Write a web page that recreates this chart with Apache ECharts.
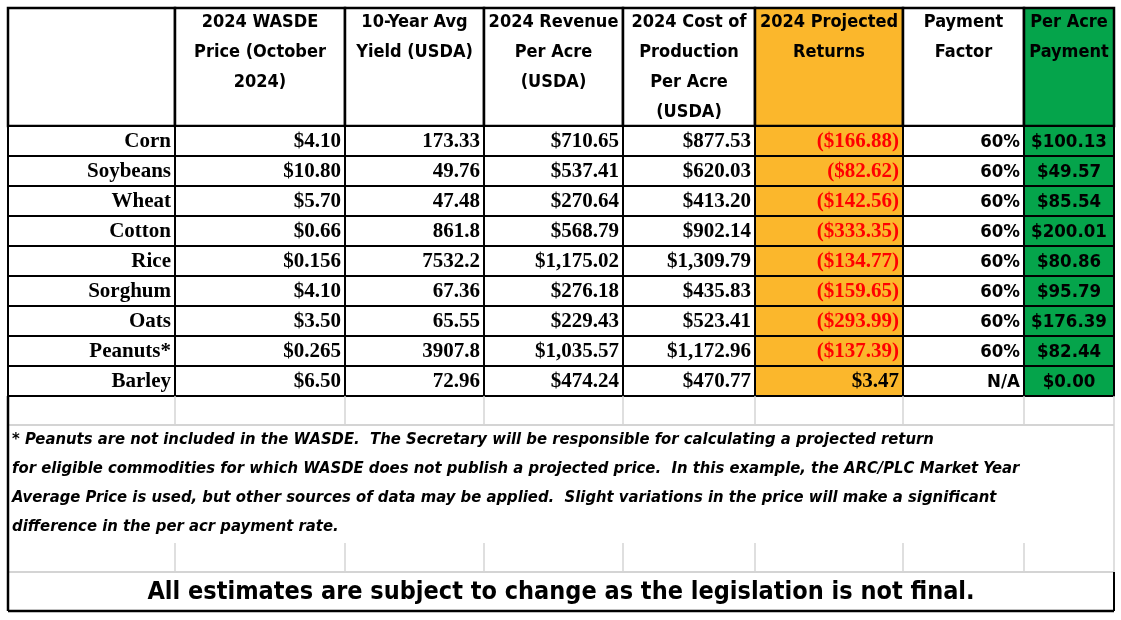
<!DOCTYPE html><html><head><meta charset="utf-8">
<script src="https://cdn.jsdelivr.net/npm/echarts@6/dist/echarts.min.js"></script>
<style>html,body{margin:0;background:#fff}#c{width:1121px;height:620px}</style></head><body><div id="c"></div>
<script>
const headers=[[""],["2024 WASDE","Price (October","2024)"],["10-Year Avg","Yield (USDA)"],["2024 Revenue","Per Acre","(USDA)"],["2024 Cost of","Production","Per Acre","(USDA)"],["2024 Projected","Returns"],["Payment","Factor"],["Per Acre","Payment"]];
const crops=["Corn","Soybeans","Wheat","Cotton","Rice","Sorghum","Oats","Peanuts*","Barley"];
const price=["$4.10","$10.80","$5.70","$0.66","$0.156","$4.10","$3.50","$0.265","$6.50"];
const yieldAvg=["173.33","49.76","47.48","861.8","7532.2","67.36","65.55","3907.8","72.96"];
const revenue=["$710.65","$537.41","$270.64","$568.79","$1,175.02","$276.18","$229.43","$1,035.57","$474.24"];
const cost=["$877.53","$620.03","$413.20","$902.14","$1,309.79","$435.83","$523.41","$1,172.96","$470.77"];
const returns=["($166.88)","($82.62)","($142.56)","($333.35)","($134.77)","($159.65)","($293.99)","($137.39)","$3.47"];
const factor=["60%","60%","60%","60%","60%","60%","60%","60%","N/A"];
const payment=["$100.13","$49.57","$85.54","$200.01","$80.86","$95.79","$176.39","$82.44","$0.00"];
const note=["* Peanuts are not included in the WASDE.  The Secretary will be responsible for calculating a projected return","for eligible commodities for which WASDE does not publish a projected price.  In this example, the ARC/PLC Market Year","Average Price is used, but other sources of data may be applied.  Slight variations in the price will make a significant","difference in the per acr payment rate."];
const footer="All estimates are subject to change as the legislation is not final.";

// layout
const X=[8,175,345,484,623,755,903,1024,1114];
const HT=8,HB=126,RH=30;
const cols=[crops,price,yieldAvg,revenue,cost,returns,factor,payment];
const fills=[null,null,null,null,null,"#FBB72C",null,"#05A44B"];
const HF='"DejaVu Sans Condensed","DejaVu Sans",sans-serif';
const SF='"Liberation Serif","Times New Roman",serif';
const cells=[];
for(let c=0;c<8;c++){cells.push({k:'h',c:c});for(let r=0;r<crops.length;r++)cells.push({k:'d',c:c,r:r});}
cells.push({k:'extra'});
const chart=echarts.init(document.getElementById('c'),null,{renderer:'canvas'});
function R(api,x0,y0,x1,y1){const a=api.coord([x0,y0]),b=api.coord([x1,y1]);return {x:a[0],y:a[1],width:b[0]-a[0],height:b[1]-a[1]};}
chart.setOption({animation:false,
grid:{left:0,right:0,top:0,bottom:0},
xAxis:{type:'value',min:0,max:1121,show:false},
yAxis:{type:'value',min:0,max:620,inverse:true,show:false},
series:[{type:'custom',coordinateSystem:'cartesian2d',data:cells.map((d,i)=>[i]),
renderItem:function(p,api){
 const d=cells[p.dataIndex];
 if(d.k==='h'){
  const s=R(api,X[d.c],HT,X[d.c+1],HB);
  const ch=[{type:'rect',shape:s,style:{fill:fills[d.c]||'#fff',stroke:'#000',lineWidth:2.5}}];
  headers[d.c].forEach((t,j)=>{const pt=api.coord([(X[d.c]+X[d.c+1])/2,22+j*30]);
   ch.push({type:'text',x:pt[0],y:pt[1],style:{text:t,font:'bold 18px '+HF,fill:'#000',align:'center',verticalAlign:'middle'}});});
  return {type:'group',children:ch};
 }
 if(d.k==='d'){
  const y0=HB+d.r*RH;const s=R(api,X[d.c],y0,X[d.c+1],y0+RH);
  const ch=[{type:'rect',shape:s,style:{fill:fills[d.c]||'#fff',stroke:'#000',lineWidth:2}}];
  const t=cols[d.c][d.r];
  let font='bold 21px '+SF,fill='#000',align='right',xx=X[d.c+1]-4;
  if(d.c===5&&t.charAt(0)==='(')fill='#FF0000';
  if(d.c===6){font='bold 18.5px '+HF;}
  if(d.c===7){font='bold 18.5px '+HF;align='center';xx=(X[7]+X[8])/2;}
  const pt=api.coord([xx,y0+RH/2+1]);
  ch.push({type:'text',x:pt[0],y:pt[1],style:{text:t,font:font,fill:fill,align:align,verticalAlign:'middle'}});
  return {type:'group',children:ch};
 }
 const ch=[];const g='#D4D4D4';
 const l=(x0,y0,x1,y1,c,w)=>{const a=api.coord([x0,y0]),b=api.coord([x1,y1]);ch.push({type:'line',shape:{x1:a[0],y1:a[1],x2:b[0],y2:b[1]},style:{stroke:c,lineWidth:w}});};
 const e0=HB+RH*9;
 [[e0,e0+29],[543,572]].forEach(([a,b])=>{for(let c=1;c<8;c++)l(X[c],a,X[c],b,g,1.5);l(X[0],b,X[8],b,g,2);});
 l(X[8],e0,X[8],572,g,1.5);
 note.forEach((t,j)=>{const pt=api.coord([12,440+j*29]);ch.push({type:'text',x:pt[0],y:pt[1],style:{text:t,font:'italic bold 16.5px '+HF,fill:'#000',verticalAlign:'middle'}});});
 const fp=api.coord([561,592]);
 ch.push({type:'text',x:fp[0],y:fp[1],style:{text:footer,font:'bold 25px '+HF,fill:'#000',align:'center',verticalAlign:'middle'}});
 l(X[0],e0,X[0],611,'#000',2.5);l(X[0],611,X[8],611,'#000',2.5);l(X[8],572,X[8],611,'#000',2);
 return {type:'group',children:ch};
}}]});
</script></body></html>
